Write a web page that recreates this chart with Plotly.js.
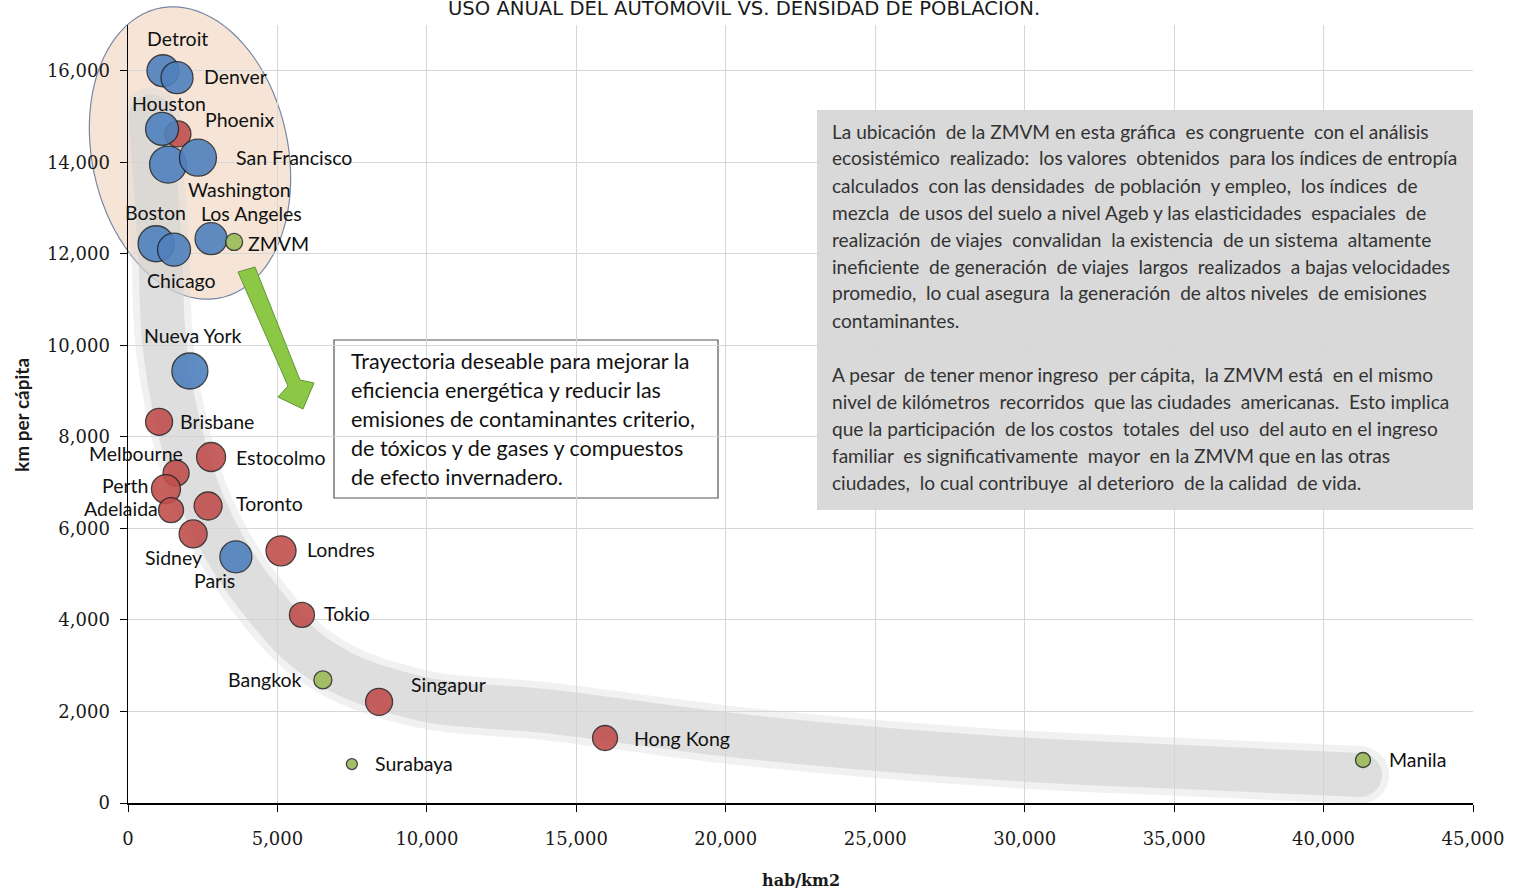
<!DOCTYPE html>
<html>
<head>
<meta charset="utf-8">
<script src="https://cdn.plot.ly/plotly-3.0.1.min.js"></script>
<style>
html,body{margin:0;padding:0;background:#fff;}
#chart{width:1517px;height:892px;}
</style>
</head>
<body>
<div id="chart"></div>
<script>
// ---------------- DATA ----------------
const cities = ["Detroit","Denver","Houston","Phoenix","Washington","San Francisco","Boston","Chicago","Los Angeles","ZMVM",
  "Nueva York","Brisbane","Estocolmo","Melbourne","Perth","Adelaida","Toronto","Sidney","Paris","Londres",
  "Tokio","Bangkok","Singapur","Surabaya","Hong Kong","Manila"];
const density = [1170,1640,1140,1670,1340,2340,940,1540,2780,3550,
  2070,1040,2780,1610,1270,1440,2680,2180,3610,5120,
  5820,6520,8400,7490,15960,41320];               // hab/km2
const kmPerCapita = [16000,15850,14730,14620,13950,14100,12220,12090,12330,12260,
  9440,8330,7560,7210,6860,6400,6490,5880,5380,5510,
  4110,2690,2210,850,1420,940];                   // km per cápita
const bubbleSize = [32,32,33,26,37,37,36,33,32,17,
  36,27,29,26,29,25,28,28,32,30,
  25,18,27,11,25,15];
const cityGroup = ["A","A","A","B","A","A","A","A","A","C",
  "A","B","B","B","B","B","B","B","A","B",
  "B","C","B","C","B","C"];

// decorative trajectory band (hab/km2, km per cápita)
const bandX = [760,1070,1240,1900,2910,4420,6420,9540,14220,20810,29180,35870,41220];
const bandY = [15000,12090,9900,7720,5970,4440,3130,2320,1990,1440,980,770,610];

const xTicks = [0,5000,10000,15000,20000,25000,30000,35000,40000,45000];
const yTicks = [0,2000,4000,6000,8000,10000,12000,14000,16000];

const titleText = "USO ANUAL DEL AUTOMÓVIL VS. DENSIDAD DE POBLACIÓN.";
const xTitle = "hab/km2";
const yTitle = "km per cápita";

const boxLines = [
  "Trayectoria deseable para mejorar la",
  "eficiencia energética y reducir las",
  "emisiones de contaminantes criterio,",
  "de tóxicos y de gases y compuestos",
  "de efecto invernadero."
];
const noteLines = [
  "La ubicación  de la ZMVM en esta gráfica  es congruente  con el análisis",
  "ecosistémico  realizado:  los valores  obtenidos  para los índices de entropía",
  "calculados  con las densidades  de población  y empleo,  los índices  de",
  "mezcla  de usos del suelo a nivel Ageb y las elasticidades  espaciales  de",
  "realización  de viajes  convalidan  la existencia  de un sistema  altamente",
  "ineficiente  de generación  de viajes  largos  realizados  a bajas velocidades",
  "promedio,  lo cual asegura  la generación  de altos niveles  de emisiones",
  "contaminantes.",
  "",
  "A pesar  de tener menor ingreso  per cápita,  la ZMVM está  en el mismo",
  "nivel de kilómetros  recorridos  que las ciudades  americanas.  Esto implica",
  "que la participación  de los costos  totales  del uso  del auto en el ingreso",
  "familiar  es significativamente  mayor  en la ZMVM que en las otras",
  "ciudades,  lo cual contribuye  al deterioro  de la calidad  de vida."
];

// ---------------- STYLE / LAYOUT CONFIG ----------------
const groupColor = {A:"rgb(79,129,189)", B:"rgb(192,80,77)", C:"rgb(155,187,89)"};
// label offsets from bubble centre, in pixels (dx right, dy down)
const labelShift = {
  "Detroit":[15,-32],"Denver":[58,-1],"Houston":[7,-25],"Phoenix":[62,-14],"Washington":[71,25],
  "San Francisco":[96,0],"Boston":[-1,-31],"Chicago":[7,31],"Los Angeles":[40,-25],"ZMVM":[44,2],
  "Nueva York":[3,-35],"Brisbane":[58,0],"Estocolmo":[69,0],"Melbourne":[-40,-20],"Perth":[-41,-4],
  "Adelaida":[-50,-2],"Toronto":[61,-2],"Sidney":[-20,24],"Paris":[-21,24],"Londres":[60,-1],
  "Tokio":[45,-1],"Bangkok":[-58,0],"Singapur":[69,-17],"Surabaya":[62,-1],"Hong Kong":[77,0],"Manila":[54,0]
};

const L=128, R=1473, T=25, B=803;
const px = x => (x-L)/(R-L);
const py = y => (B-y)/(B-T);

const labelFont = {family:"Lato, 'Open Sans', sans-serif", size:19.5, color:"#111"};
const tickFont = {family:"'DejaVu Serif', serif", size:18, color:"#1a1a1a"};

// ---------------- TRACES ----------------
const traces = [];
traces.push({x:bandX, y:bandY, mode:"lines", type:"scatter", hoverinfo:"skip", showlegend:false,
  line:{shape:"spline", smoothing:1.1, width:58, color:"rgba(215,215,215,0.35)"}});
traces.push({x:bandX, y:bandY, mode:"lines", type:"scatter", hoverinfo:"skip", showlegend:false,
  line:{shape:"spline", smoothing:1.1, width:44, color:"rgba(210,210,210,0.6)"}});

["B","A","C"].forEach(g => {
  const idx = cities.map((c,i)=>i).filter(i=>cityGroup[i]===g);
  traces.push({
    type:"scatter", mode:"markers", showlegend:false, cliponaxis:false,
    x: idx.map(i=>density[i]), y: idx.map(i=>kmPerCapita[i]), text: idx.map(i=>cities[i]),
    marker:{size: idx.map(i=>bubbleSize[i]), sizemode:"diameter", sizeref:1,
      color: groupColor[g], opacity:0.9, line:{color:"rgba(30,30,30,0.9)", width:1.3}}
  });
});

// ---------------- SHAPES ----------------
const shapes = [];
// right gray note box
shapes.push({type:"rect", xref:"paper", yref:"paper", layer:"below",
  x0:px(817), x1:px(1473), y0:py(510), y1:py(110),
  fillcolor:"rgb(217,217,217)", line:{width:0}});
// middle white text box
shapes.push({type:"rect", xref:"paper", yref:"paper", layer:"below",
  x0:px(334), x1:px(718), y0:py(498), y1:py(340),
  fillcolor:"rgba(255,255,255,1)", line:{width:1.2, color:"#555"}});
// ellipse around US cities
(function(){
  const cx=190, cy=153, a=98, b=148, phi=12*Math.PI/180;
  let d="";
  for(let k=0;k<=90;k++){
    const t=2*Math.PI*k/90;
    const x = cx + a*Math.cos(t)*Math.cos(phi) + b*Math.sin(t)*Math.sin(phi);
    const y = cy - a*Math.cos(t)*Math.sin(phi) + b*Math.sin(t)*Math.cos(phi);
    d += (k===0?"M":"L") + px(x).toFixed(5) + "," + py(y).toFixed(5);
  }
  d += "Z";
  shapes.push({type:"path", xref:"paper", yref:"paper", layer:"below", path:d,
    fillcolor:"rgba(244,224,208,0.85)", line:{color:"rgb(120,135,165)", width:1.2}});
})();
// green arrow
(function(){
  const pts=[[238,272],[255,267],[300,380],[314,383],[303,409],[278,397],[288,386]];
  const d = pts.map((p,i)=>(i?"L":"M")+px(p[0]).toFixed(5)+","+py(p[1]).toFixed(5)).join("")+"Z";
  shapes.push({type:"path", xref:"paper", yref:"paper", layer:"above", path:d,
    fillcolor:"rgb(140,200,70)", line:{color:"rgb(95,150,55)", width:1}});
})();

// ---------------- ANNOTATIONS ----------------
const annotations = [];
cities.forEach((c,i)=>{
  const s = labelShift[c];
  annotations.push({x:density[i], y:kmPerCapita[i], xref:"x", yref:"y", text:c, showarrow:false,
    xanchor:"center", yanchor:"middle", xshift:s[0], yshift:-s[1], font:labelFont});
});
boxLines.forEach((t,i)=>{
  annotations.push({xref:"paper", yref:"paper", x:px(349), y:py(361+29*i), text:t, showarrow:false,
    xanchor:"left", yanchor:"middle", font:{family:"Lato, sans-serif", size:21.5, color:"#111"}});
});
noteLines.forEach((t,i)=>{
  if(!t) return;
  annotations.push({xref:"paper", yref:"paper", x:px(830), y:py(131+27*i), text:t.replace(/ /g,"\u00a0"), showarrow:false,
    xanchor:"left", yanchor:"middle",
    font:{family:"Lato, sans-serif", size:19.1, color:"#333"}});
});
annotations.push({xref:"paper", yref:"paper", x:px(744), y:py(8), text:titleText, showarrow:false,
  xanchor:"center", yanchor:"middle", font:{family:"'DejaVu Sans', sans-serif", size:19.6, color:"#1a1a1a"}});
annotations.push({xref:"paper", yref:"paper", x:px(801), y:py(880), text:"<b>"+xTitle+"</b>", showarrow:false,
  xanchor:"center", yanchor:"middle", font:{family:"'DejaVu Serif', serif", size:16, color:"#1a1a1a"}});
annotations.push({xref:"paper", yref:"paper", x:px(22), y:py(415), text:"<b>"+yTitle+"</b>", showarrow:false,
  textangle:-90, xanchor:"center", yanchor:"middle", font:{family:"Lato, sans-serif", size:19, color:"#1a1a1a"}});

// ---------------- LAYOUT ----------------
const layout = {
  width:1517, height:892,
  margin:{l:128, r:44, t:25, b:89},
  paper_bgcolor:"#fff", plot_bgcolor:"rgba(0,0,0,0)",
  showlegend:false,
  xaxis:{range:[0,45000], tickvals:xTicks, ticktext:xTicks.map(v=>v.toLocaleString("en-US")),
    showgrid:true, gridcolor:"rgb(215,215,215)", gridwidth:1, zeroline:false,
    showline:true, linecolor:"#000", linewidth:1.5, ticks:"outside", ticklen:7, tickcolor:"#000",
    tickfont:tickFont, ticklabelstandoff:12, fixedrange:true},
  yaxis:{range:[0,17000], tickvals:yTicks, ticktext:yTicks.map(v=>v.toLocaleString("en-US")),
    showgrid:true, gridcolor:"rgb(215,215,215)", gridwidth:1, zeroline:false,
    showline:true, linecolor:"#000", linewidth:1.5, ticks:"outside", ticklen:7, tickcolor:"#000",
    tickfont:tickFont, ticklabelstandoff:6, fixedrange:true},
  shapes:shapes, annotations:annotations
};

Plotly.newPlot("chart", traces, layout, {displayModeBar:false, staticPlot:true}).then(()=>{
  document.querySelectorAll(".scatterlayer .js-line").forEach(p=>{
    p.style.strokeLinecap="round"; p.style.strokeLinejoin="round";
  });
});
</script>
</body>
</html>
